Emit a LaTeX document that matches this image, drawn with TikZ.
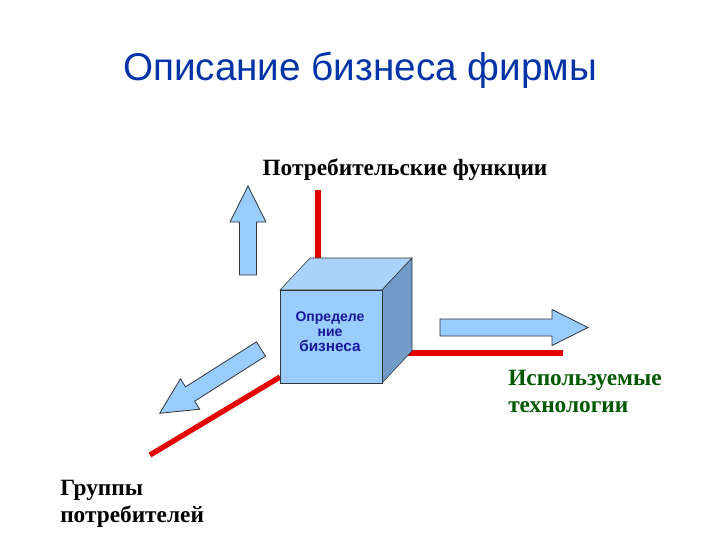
\documentclass[tikz,border=0pt]{standalone}
\usepackage{fontspec}
\setmainfont{Liberation Serif}
\setsansfont{Liberation Sans}
\begin{document}
\begin{tikzpicture}[x=0.75pt,y=-0.75pt,
  lab/.style={font=\fontsize{17.5}{20}\selectfont\bfseries, align=left, inner sep=0pt},
  axisline/.style={draw=red!90!black, line width=4pt},
  blu/.style={fill={rgb,255:red,153;green,204;blue,255}, draw=black!80, line width=0.6pt},
  bigarrow/.style={blu}]
\useasboundingbox (0,0) rectangle (720,540);
\node (title) at (360,70) {\sffamily\fontsize{29}{32}\selectfont\color[rgb]{0.0,0.2,0.65}Описание бизнеса фирмы};
% axes
\coordinate (vtop) at (318,190);
\coordinate (vbot) at (318,258);
\coordinate (hl) at (382,353);
\coordinate (hr) at (563,353);
\coordinate (dl) at (280,377);
\coordinate (dr) at (150,455);
\draw[axisline] (vtop) -- (vbot);
\draw[axisline] (hl) -- (hr);
\draw[axisline] (dl) -- (dr);
% cube
\coordinate (fa) at (280,290); \coordinate (fb) at (382,290);
\coordinate (fc) at (382,383); \coordinate (fd) at (280,383);
\coordinate (ta) at (310,258); \coordinate (tb) at (412,258);
\coordinate (tc) at (412,351);
\filldraw[fill={rgb,255:red,170;green,210;blue,250}, draw=black!80] (fa) -- (ta) -- (tb) -- (fb) -- cycle;
\filldraw[fill={rgb,255:red,115;green,155;blue,200}, draw=black!80] (fb) -- (tb) -- (tc) -- (fc) -- cycle;
\filldraw[blu] (fa) rectangle (fc);
\node (cube) at (330,332) {\sffamily\bfseries\fontsize{10.5}{13}\selectfont\color[rgb]{0.1,0.1,0.6}\shortstack{Определе\\ние\\\fontsize{11.5}{14}\selectfont бизнеса}};
% arrows (local: along +x, length L)
\newcommand{\myarrow}[3]{% pos, angle, length
  \begin{scope}[shift={#1}, rotate=#2]
  \filldraw[bigarrow] (0,-8.5) -- ({#3-36},-8.5) -- ({#3-36},-18) -- (#3,0) -- ({#3-36},18) -- ({#3-36},8.5) -- (0,8.5) -- cycle;
  \end{scope}}
\myarrow{(248,275)}{90}{89}
\myarrow{(440,327.5)}{0}{148}
\myarrow{(261,349)}{212.4}{120}
\node[lab, anchor=north west] (tg) at (60,480) {Группы\\потребителей};
\node[lab, anchor=north west, text=green!35!black] (tt) at (508,370) {Используемые\\технологии};
\node[lab] (tp) at (405,170) {Потребительские функции};
\end{tikzpicture}
\end{document}
